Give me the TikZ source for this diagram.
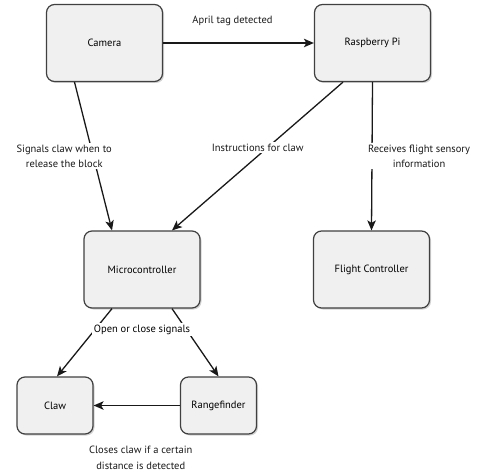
\documentclass[tikz,border=0pt]{standalone}
\usepackage{fontspec}
\setmainfont{PT Sans}
\usetikzlibrary{arrows.meta,positioning,shadows}

\begin{document}
\begin{tikzpicture}[x=1pt,y=1pt,font=\fontsize{10.5}{15.5}\selectfont,
  block/.style={draw=black!75, line width=1.2pt, fill=black!6, rounded corners=8pt,
    drop shadow={opacity=0.35, shadow xshift=1.5pt, shadow yshift=-1.5pt}},
  big/.style={block, minimum width=116pt, minimum height=77pt},
  small/.style={block, minimum width=76pt, minimum height=57pt},
  link/.style={-{Stealth[length=10pt,width=8.5pt,inset=2.5pt]}, line width=1.3pt, black!90},
  lbl/.style={fill=white, inner sep=1.5pt, align=center},
]

\useasboundingbox (0,0) rectangle (482,-476);

\node[big] (camera) at (104.5,-43) {Camera};
\node[big] (rpi) at (372.5,-43) {Raspberry Pi};
\node[big] (micro) at (142,-269.5) {Microcontroller};
\node[big] (flight) at (371.5,-269.5) {Flight Controller};
\node[small] (claw) at (55,-405.5) {Claw};
\node[small] (range) at (218.5,-405.5) {Rangefinder};

\draw[link] (camera) -- node[midway, above=13pt, xshift=-6pt] {April tag detected} (rpi);
\draw[link] ([xshift=-30pt]camera.south) -- node[lbl, midway, xshift=-29pt] {Signals claw when to\\release the block} ([xshift=-30pt]micro.north);
\draw[link] ([xshift=-29.5pt]rpi.south) -- node[lbl, pos=0.44, xshift=-10pt] {Instructions for claw} ([xshift=30pt]micro.north);
\draw[link] (rpi.south) -- node[lbl, midway, xshift=47pt] {Receives flight sensory\\information} (flight.north);
\draw[link] ([xshift=-30pt]micro.south) -- ([xshift=2pt]claw.north);
\draw[link] ([xshift=30pt]micro.south) -- (range.north);
\draw[link] (range) -- node[midway, below=37pt, xshift=4pt, align=center] {Closes claw if a certain\\distance is detected} (claw);

\node[lbl] (signals) at ([yshift=-21pt]micro.south) {Open or close signals};

\end{tikzpicture}
\end{document}
